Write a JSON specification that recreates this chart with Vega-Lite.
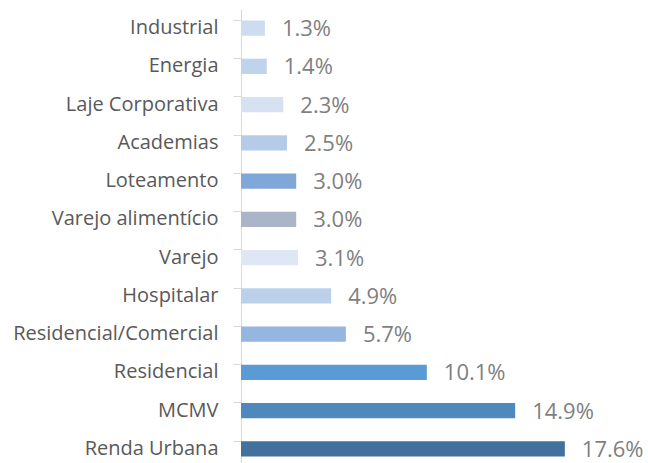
{
  "$schema": "https://vega.github.io/schema/vega-lite/v6.json",
  "autosize": {"type": "none"},
  "padding": {"left": 241, "top": 9, "right": 39, "bottom": 0},
  "width": 368,
  "height": 459,
  "background": "white",
  "config": {"view": {"stroke": null}},
  "data": {"values": [
    {"cat": "Industrial", "v": 1.3, "lbl": "1.3%", "c": "#cddcef"},
    {"cat": "Energia", "v": 1.4, "lbl": "1.4%", "c": "#c0d3ec"},
    {"cat": "Laje Corporativa", "v": 2.3, "lbl": "2.3%", "c": "#d6e1f1"},
    {"cat": "Academias", "v": 2.5, "lbl": "2.5%", "c": "#b6cbe8"},
    {"cat": "Loteamento", "v": 3.0, "lbl": "3.0%", "c": "#7fa7d8"},
    {"cat": "Varejo alimentício", "v": 3.0, "lbl": "3.0%", "c": "#aab5c8"},
    {"cat": "Varejo", "v": 3.1, "lbl": "3.1%", "c": "#dfe6f4"},
    {"cat": "Hospitalar", "v": 4.9, "lbl": "4.9%", "c": "#bcd0ea"},
    {"cat": "Residencial/Comercial", "v": 5.7, "lbl": "5.7%", "c": "#94b6e0"},
    {"cat": "Residencial", "v": 10.1, "lbl": "10.1%", "c": "#5b9bd5"},
    {"cat": "MCMV", "v": 14.9, "lbl": "14.9%", "c": "#4e88bd"},
    {"cat": "Renda Urbana", "v": 17.6, "lbl": "17.6%", "c": "#41719c"}
  ]},
  "encoding": {
    "y": {"field": "cat", "type": "nominal", "sort": null, "title": null,
      "scale": {"paddingInner": 0.6, "paddingOuter": 0.3},
      "axis": {"domainColor": "#d9d9d9", "tickColor": "#d9d9d9", "tickSize": 8, "bandPosition": 0,
        "labelFont": "Open Sans", "labelFontSize": 20, "labelColor": "#595959", "labelPadding": 15, "labelLimit": 400}},
    "x": {"field": "v", "type": "quantitative", "scale": {"domain": [0, 20]}, "axis": null}
  },
  "layer": [
    {"mark": {"type": "bar"}, "encoding": {"color": {"field": "c", "type": "nominal", "scale": null}}},
    {"mark": {"type": "text", "align": "left", "dx": 17, "dy": 1, "font": "Open Sans", "fontSize": 22, "color": "#7f7f7f"},
     "encoding": {"text": {"field": "lbl", "type": "nominal"}}}
  ]
}
